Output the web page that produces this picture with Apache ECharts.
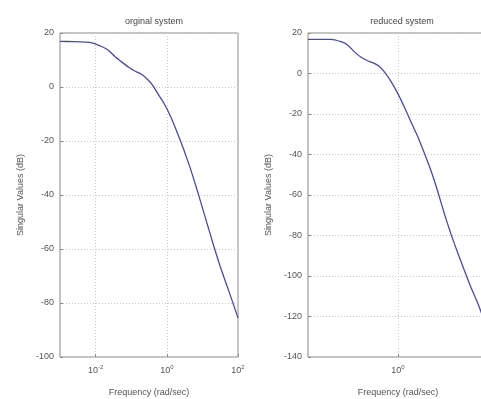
<!DOCTYPE html>
<html>
<head>
<meta charset="utf-8">
<script src="https://cdn.jsdelivr.net/npm/echarts@6/dist/echarts.min.js"></script>
<style>
  html, body { margin: 0; padding: 0; background: #fff; }
  #graph { width: 481px; height: 399px; }
</style>
</head>
<body>
<div id="graph"></div>
<script>
"use strict"

// log10 of frequency (rad/sec) and singular value (dB)
const origLogW = [-3, -2.6, -2.17, -1.83, -1.65, -1.46, -1.28, -1.09, -0.91, -0.72, -0.54, -0.4, -0.26, -0.08, 0.11, 0.3, 0.48, 0.67, 0.86, 1.13, 1.31, 1.5, 1.78, 2];
const origDb   = [16.9, 16.8, 16.5, 15.0, 13.7, 11.3, 9.4, 7.5, 6.0, 4.8, 2.8, 0.7, -2.3, -6.0, -11.0, -17.1, -23.3, -30.5, -38.5, -50.5, -58.5, -66.5, -77.0, -85.5];

const redLogW = [-3, -2.6, -2.23, -1.9, -1.68, -1.46, -1.23, -1.01, -0.79, -0.62, -0.46, -0.23, -0.01, 0.21, 0.43, 0.66, 0.88, 1.1, 1.32, 1.54, 1.77, 1.99, 2.21, 2.43, 2.66, 2.8, 3];
const redDb   = [16.9, 16.9, 16.9, 15.7, 14.1, 10.8, 8.0, 6.3, 5.0, 3.4, 0.9, -4.0, -9.8, -16.5, -23.8, -31.2, -39.4, -48.0, -58.0, -69.0, -79.5, -88.5, -97.2, -105.5, -113.5, -119.0, -126];

const titles = ["orginal system", "reduced system"];
const xName = "Frequency (rad/sec)";
const yName = "Singular Values (dB)";
const origXTicks = [-2, 0, 2];
const redXTicks = [0];

const txt = "#555";
const boxCol = "#8a8a8a";
const gridCol = "#c8c8c8";
const lineCol = "#4b4b9c";

const zip = (a, b) => a.map((v, i) => [v, b[i]]);

function xAxisOf(idx, min, max, ticks)
{
    return {
        type: "value", gridIndex: idx, min: min, max: max,
        name: xName, nameLocation: "middle", nameGap: 31,
        nameTextStyle: { color: txt, fontSize: 9, fontFamily: "Liberation Sans" },
        axisLine: { show: false, onZero: false },
        axisTick: { show: true, inside: true, length: 3, customValues: ticks, lineStyle: { color: boxCol } },
        axisLabel: {
            customValues: ticks, margin: 7,
            formatter: v => "{b|10}{s|" + v + "}",
            rich: {
                b: { fontSize: 9, color: txt, fontFamily: "Liberation Sans" },
                s: { fontSize: 6, color: txt, verticalAlign: "top", padding: [0, 0, 7, 0], fontFamily: "Liberation Sans" }
            }
        },
        splitLine: { show: true, lineStyle: { color: gridCol, type: [1, 2] } }
    };
}

function yAxisOf(idx, min, max)
{
    return {
        type: "value", gridIndex: idx, min: min, max: max, interval: 20,
        name: yName, nameLocation: "middle", nameGap: 35,
        nameTextStyle: { color: txt, fontSize: 9, fontFamily: "Liberation Sans" },
        axisLine: { show: false, onZero: false },
        axisTick: { show: true, inside: true, length: 3, lineStyle: { color: boxCol } },
        axisLabel: { color: txt, fontSize: 9, margin: 6, fontFamily: "Liberation Sans" },
        splitLine: { show: true, lineStyle: { color: gridCol, type: [1, 2] } }
    };
}

const myChart = echarts.init(document.getElementById("graph"), null, { renderer: "canvas" });

myChart.setOption({
    animation: false,
    backgroundColor: "#fff",
    title: [
        { text: titles[0], left: 149, top: 12, textAlign: "center", textStyle: { color: "#444", fontSize: 9, fontWeight: "normal", fontFamily: "Liberation Sans" } },
        { text: titles[1], left: 397, top: 12, textAlign: "center", textStyle: { color: "#444", fontSize: 9, fontWeight: "normal", fontFamily: "Liberation Sans" } }
    ],
    grid: [
        { left: 60, top: 33, width: 178, height: 324, outerBoundsMode: "none", show: true, borderColor: boxCol, borderWidth: 1, backgroundColor: "transparent" },
        { left: 308, top: 33, width: 180, height: 324, outerBoundsMode: "none", show: true, borderColor: boxCol, borderWidth: 1, backgroundColor: "transparent" }
    ],
    xAxis: [
        xAxisOf(0, -3, 2, origXTicks),
        xAxisOf(1, -3, 3, redXTicks)
    ],
    yAxis: [
        yAxisOf(0, -100, 20),
        yAxisOf(1, -140, 20)
    ],
    series: [
        {
            type: "line", xAxisIndex: 0, yAxisIndex: 0, smooth: 0.15, showSymbol: false,
            lineStyle: { color: lineCol, width: 1.3 }, clip: true,
            data: zip(origLogW, origDb)
        },
        {
            type: "line", xAxisIndex: 1, yAxisIndex: 1, smooth: 0.15, showSymbol: false,
            lineStyle: { color: lineCol, width: 1.3 }, clip: true,
            data: zip(redLogW, redDb)
        }
    ]
});
</script>
</body>
</html>
